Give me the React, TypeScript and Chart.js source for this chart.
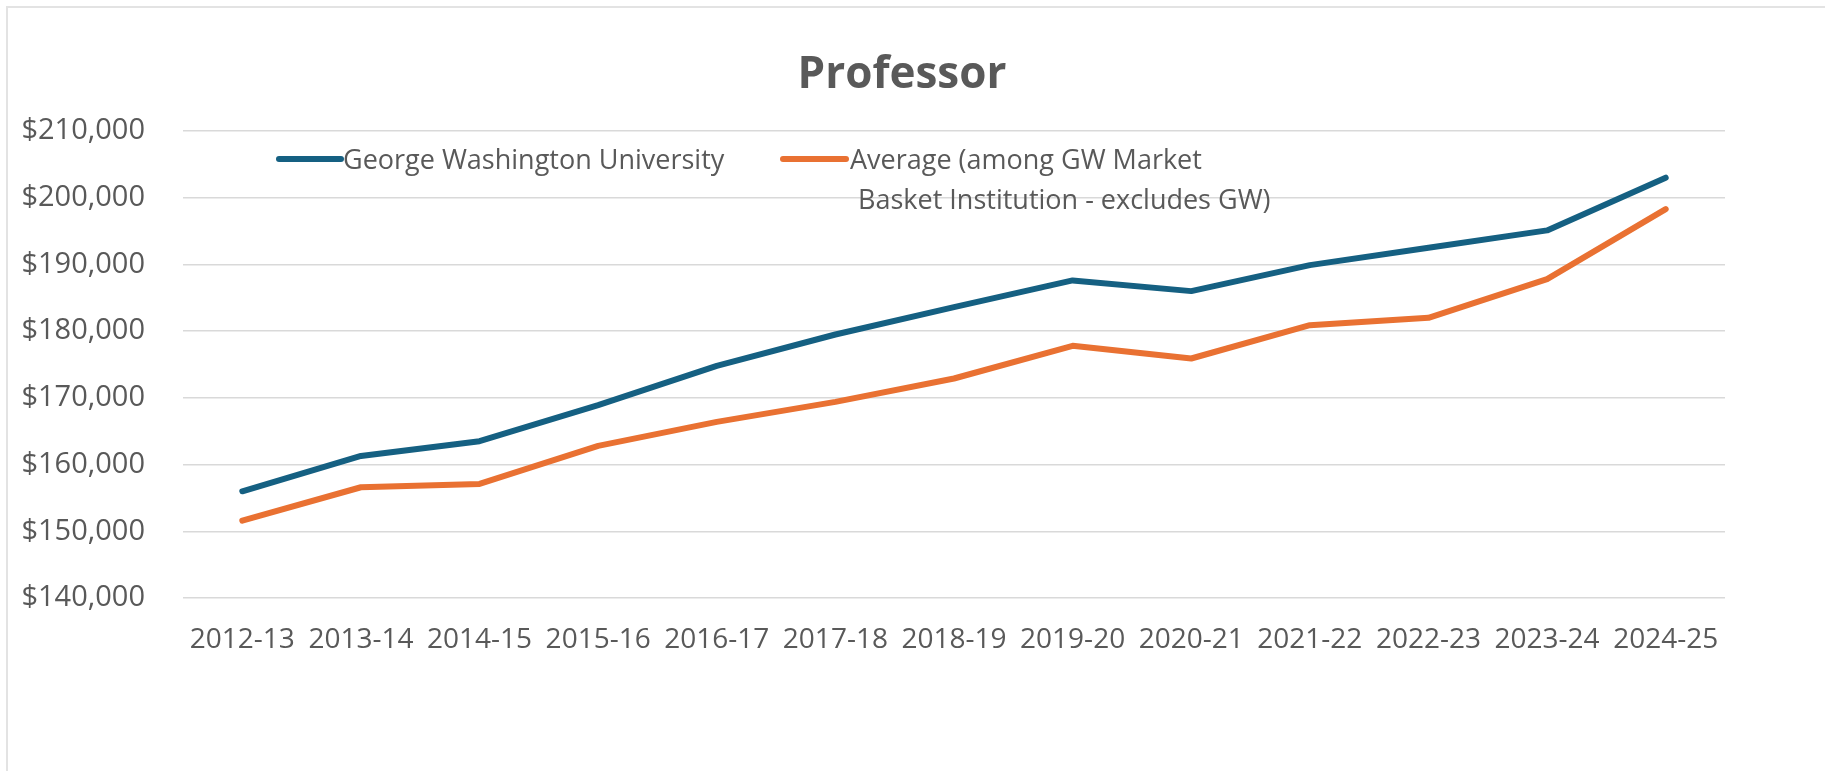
import React, { useEffect, useRef } from "react";
import { Chart, registerables } from "chart.js";

Chart.register(...registerables);

const titleText = "Professor";
const categories = [
  "2012-13", "2013-14", "2014-15", "2015-16", "2016-17", "2017-18", "2018-19",
  "2019-20", "2020-21", "2021-22", "2022-23", "2023-24", "2024-25",
];
const gwValues = [156000, 161300, 163500, 168900, 174800, 179500, 183600, 187600, 186000, 189900, 192500, 195100, 203000];
const avgValues = [151600, 156600, 157100, 162800, 166400, 169400, 172900, 177800, 175900, 180900, 182000, 187800, 198300];
const seriesNames = ["George Washington University", "Average (among GW Market Basket Institution - excludes GW)"];
const legendTextLines = [
  ["George Washington University"],
  ["Average (among GW Market", "Basket Institution - excludes GW)"],
];
const yMin = 140000;
const yMax = 210000;
const yStep = 10000;

const BLUE = "#156082";
const ORANGE = "#E97132";
const TEXT = "#595959";
const GRID = "#d9d9d9";
const FONT = "'Open Sans', 'Noto Sans', sans-serif";

const overlayPlugin = {
  id: "overlay",
  afterDraw(chart: any) {
    const ctx = chart.ctx as CanvasRenderingContext2D;
    ctx.save();
    // Title
    ctx.fillStyle = TEXT;
    ctx.font = `bold 44px ${FONT}`;
    ctx.textAlign = "center";
    ctx.textBaseline = "alphabetic";
    ctx.fillText(titleText, 902, 88);

    // Legend
    const items = [
      { color: chart.data.datasets[0].borderColor, x0: 279, x1: 341, tx: [343], lines: legendTextLines[0] },
      { color: chart.data.datasets[1].borderColor, x0: 783, x1: 846, tx: [850, 858], lines: legendTextLines[1] },
    ];
    const cy = 159;
    const lineGap = 40;
    ctx.font = `27px ${FONT}`;
    ctx.textAlign = "left";
    items.forEach((it) => {
      ctx.strokeStyle = it.color;
      ctx.lineWidth = 6;
      ctx.lineCap = "round";
      ctx.beginPath();
      ctx.moveTo(it.x0, cy);
      ctx.lineTo(it.x1, cy);
      ctx.stroke();
      ctx.fillStyle = TEXT;
      it.lines.forEach((ln: string, i: number) => {
        ctx.fillText(ln, it.tx[i] ?? it.tx[0], cy + 9.5 + i * lineGap);
      });
    });
    ctx.restore();
  },
};

export default function App() {
  const ref = useRef<HTMLCanvasElement | null>(null);

  useEffect(() => {
    if (!ref.current) return;
    const chart = new Chart(ref.current, {
      type: "line",
      data: {
        labels: categories,
        datasets: [
          {
            label: seriesNames[0],
            data: gwValues,
            borderColor: BLUE,
            backgroundColor: BLUE,
            borderWidth: 6,
            pointRadius: 0,
            tension: 0,
            borderCapStyle: "round",
            borderJoinStyle: "round",
          },
          {
            label: seriesNames[1],
            data: avgValues,
            borderColor: ORANGE,
            backgroundColor: ORANGE,
            borderWidth: 6,
            pointRadius: 0,
            tension: 0,
            borderCapStyle: "round",
            borderJoinStyle: "round",
          },
        ],
      },
      options: {
        responsive: false,
        animation: false,
        layout: { padding: { top: 131, right: 100, left: 0, bottom: 0 } },
        plugins: {
          legend: { display: false },
          title: { display: false },
          tooltip: { enabled: false },
        },
        scales: {
          x: {
            type: "category",
            offset: true,
            grid: { display: false, drawTicks: false },
            border: { display: false },
            ticks: {
              color: TEXT,
              font: { family: FONT, size: 28 },
              padding: 25,
              maxRotation: 0,
              autoSkip: false,
            },
            afterFit: (s: any) => {
              s.height = 173;
            },
          },
          y: {
            min: yMin,
            max: yMax,
            border: { display: false },
            grid: { color: GRID, lineWidth: 1.5, drawTicks: false },
            ticks: {
              stepSize: yStep,
              color: TEXT,
              font: { family: FONT, size: 29 },
              padding: 38,
              callback: (v: any) => "$" + Number(v).toLocaleString("en-US"),
            },
            afterFit: (s: any) => {
              s.width = 183;
            },
          },
        },
      },
      plugins: [overlayPlugin],
    });
    return () => chart.destroy();
  }, []);

  return (
    <div style={{ position: "fixed", left: 0, top: 0, width: 1825, height: 771, background: "#fff", overflow: "hidden" }}>
      <div
        style={{
          position: "absolute",
          left: 6,
          top: 6,
          right: -10,
          bottom: -10,
          borderTop: "2px solid #e3e3e3",
          borderLeft: "2px solid #e3e3e3",
        }}
      />
      <canvas ref={ref} width={1825} height={771} style={{ position: "absolute", left: 0, top: 0 }} />
    </div>
  );
}
